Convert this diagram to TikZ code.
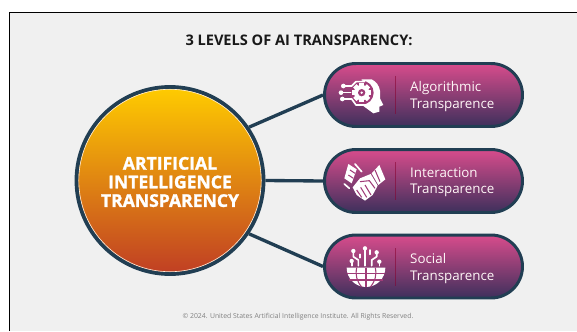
\documentclass[tikz,border=0pt]{standalone}
\usepackage{fontspec}
\setmainfont{Open Sans}
\newfontfamily\heavyfont[BoldFeatures={FakeBold=1.4}]{Open Sans}
\usetikzlibrary{positioning}
\definecolor{linkblue}{RGB}{33,62,83}
\definecolor{pagegrey}{RGB}{240,240,240}
\definecolor{iconpink}{RGB}{160,60,120}
\tikzset{
    levelpill/.style={draw=linkblue, line width=1.7pt, rounded corners=0.63cm, minimum width=3.96cm, minimum height=1.26cm,
        top color={rgb,255:red,216;green,76;blue,140}, bottom color={rgb,255:red,62;green,48;blue,92}},
    link/.style={draw=linkblue, line width=1.9pt},
    leveltext/.style={text=white!88!pink, font=\fontsize{7.6}{9.2}\selectfont, align=left, anchor=west},
    divider/.style={draw=black!30!purple, opacity=0.55, line width=0.5pt},
    iconscale/.style={x=0.00667cm, y=-0.00667cm},
    iconline/.style={draw=white, line width=0.95pt, line cap=round, line join=round},
    iconcut/.style={draw=iconpink, line width=0.6pt}
}
\begin{document}
\begin{tikzpicture}[x=0.02cm,y=-0.02cm]
    \useasboundingbox (0,0) rectangle (577,331);
    \fill[pagegrey] (9.5,12.5) rectangle (577,331);
    \draw[black, line width=0.6pt] (9.5,331) -- (9.5,12.5) -- (577,12.5);

    \node[font=\bfseries\fontsize{8.3}{9}\selectfont, text=black!90] (title) at (299,40) {3 LEVELS OF AI TRANSPARENCY:};

    \node[circle, draw=linkblue, line width=2.2pt, minimum size=3.74cm, inner sep=0pt,
        top color={rgb,255:red,255;green,204;blue,0}, middle color={rgb,255:red,240;green,128;blue,28},
        bottom color={rgb,255:red,192;green,62;blue,36}] (core) at (170,180.5) {};
    \draw[white!85!orange, line width=0.35pt] (core.center) circle (91.2);
    \node[text=white, font=\heavyfont\bfseries\fontsize{10}{10.6}\selectfont, align=center] (coretext) at (170,182) {ARTIFICIAL\\INTELLIGENCE\\TRANSPARENCY};

    \node[levelpill] (algo) at (423.5,95) {};
    \node[levelpill] (inter) at (423.5,181) {};
    \node[levelpill] (social) at (423.5,266.5) {};

    \draw[link] (core.34) -- (algo.west);
    \draw[link] (core.east) -- (inter.west);
    \draw[link] (core.-34) -- (social.west);

    \node[leveltext] (algotext) at (404,96.5) {Algorithmic\\Transparence};
    \node[leveltext] (intertext) at (404,182) {Interaction\\Transparence};
    \node[leveltext] (socialtext) at (404,268.5) {Social\\Transparence};

    \foreach \y in {95,181,267} {
        \draw[divider] (395.5,\y-19) -- (395.5,\y+19);
    }

    % head and gear
    \begin{scope}[shift={(310,50)}, iconscale]
        \fill[white] (155,88) -- (185,88) to[bend left=25] (210,122) -- (210,145) -- (220,165) -- (208,170) -- (208,185) -- (190,190) -- (160,168) -- cycle;
        \fill[iconpink] (155,128) circle (36);
        \foreach \a in {0,45,...,315} {
            \fill[white, rotate around={\a:(155,128)}] (148,99) rectangle (162,112);
        }
        \fill[white] (155,128) circle (23);
        \fill[iconpink] (155,128) circle (11);
        \fill[white] (155,128) circle (4);
        \draw[iconline] (100,108) -- (125,108) -- (138,95) -- (163,95);
        \draw[iconline] (93,128) -- (122,128);
        \draw[iconline] (97,147) -- (125,147) -- (138,165) -- (163,165);
        \foreach \x/\y in {100/108,93/128,97/147} {
            \fill[white] (\x,\y) circle (7);
        }
    \end{scope}

    % handshake
    \begin{scope}[shift={(310,140)}, iconscale]
        \fill[white] (115,72) -- (140,88) -- (125,130) -- (103,115) -- cycle;
        \fill[white] (208,75) -- (226,118) -- (205,135) -- (185,100) -- cycle;
        \fill[white] (182,102) -- (203,137) -- (188,165) -- (165,182) -- (140,165) -- (128,142) -- (150,115) -- cycle;
        \draw[iconcut] (120,90) -- (135,100);
        \draw[iconcut] (115,105) -- (130,115);
        \draw[iconcut] (195,90) -- (210,125);
        \draw[iconcut] (150,125) -- (178,122) -- (195,145);
        \draw[iconcut] (140,150) -- (155,172);
        \draw[iconcut] (152,142) -- (170,172);
        \draw[iconcut] (165,135) -- (183,165);
        \draw[iconline] (135,72) -- (155,95);
        \draw[iconline] (103,132) -- (118,145);
    \end{scope}

    % globe with circuits
    \begin{scope}[shift={(310,225)}, iconscale]
        \fill[white] (110,128) -- (226,128) arc[start angle=0, end angle=180, radius=58] -- cycle;
        \draw[iconcut] (110,146) -- (226,146);
        \draw[iconcut] (118,165) -- (218,165);
        \draw[iconcut] (168,128) -- (168,186);
        \draw[iconcut] (140,128) to[bend right=25] (155,186);
        \draw[iconcut] (196,128) to[bend left=25] (181,186);
        \draw[iconline] (165,70) -- (165,122);
        \draw[iconline] (130,78) -- (130,95) -- (145,105) -- (145,122);
        \draw[iconline] (200,82) -- (200,95) -- (185,105) -- (185,122);
        \draw[iconline] (125,108) -- (125,122);
        \draw[iconline] (208,110) -- (208,122);
        \draw[iconline] (150,88) -- (150,98);
        \draw[iconline] (180,75) -- (180,88);
        \foreach \x/\y in {165/70,130/78,200/82,125/108,208/110} {
            \fill[white] (\x,\y) circle (6.5);
        }
    \end{scope}

    \node[text=black!50, font=\fontsize{3.9}{5}\selectfont] (rights) at (298,317) {\textcopyright{} 2024. United States Artificial Intelligence Institute. All Rights Reserved.};
\end{tikzpicture}
\end{document}
